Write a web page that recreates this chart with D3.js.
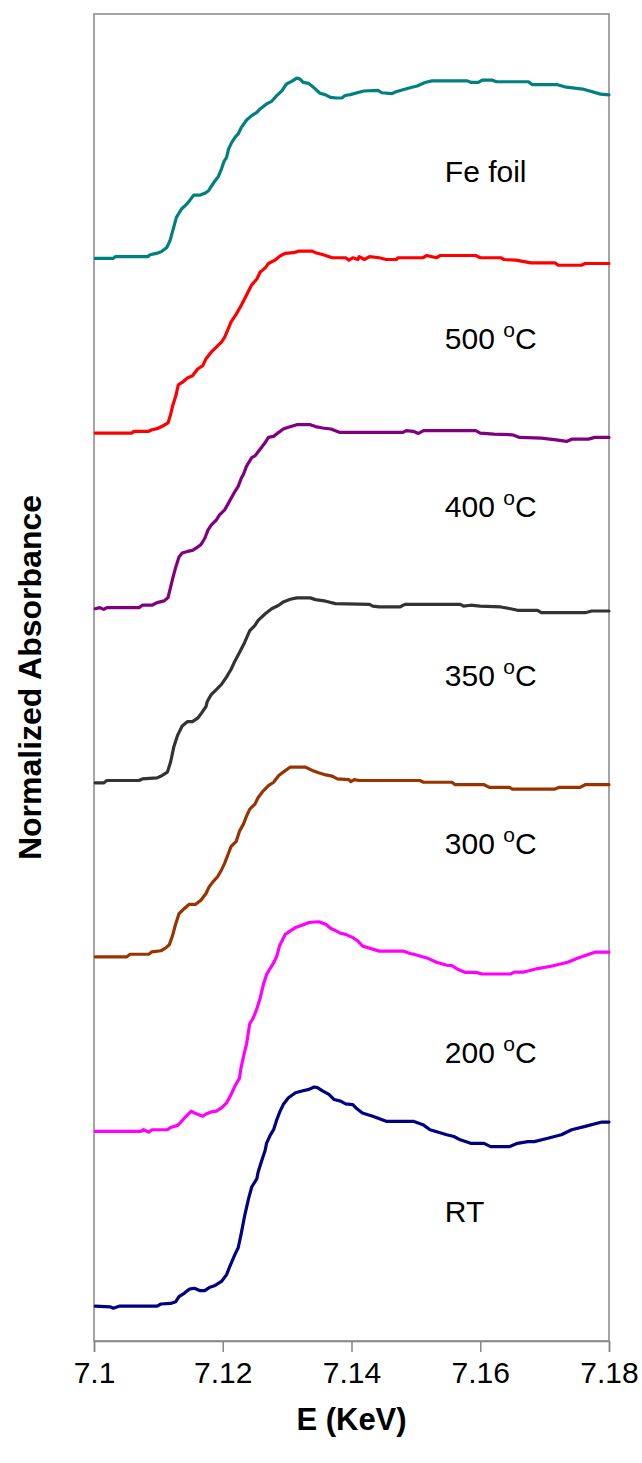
<!DOCTYPE html>
<html>
<head>
<meta charset="utf-8">
<script src="https://cdn.jsdelivr.net/npm/d3@7"></script>
<style>
  body { margin: 0; background: #fff; }
  svg text { font-family: "Liberation Sans", Arial, sans-serif; fill: #000; }
</style>
</head>
<body>
<div id="chart"></div>
<script>
// XANES spectra, [E (keV), normalized absorbance] per sample, stacked by offset
var rtData = [[7.1002,0],[7.1025,-0.004],[7.1030,-0.012],[7.1040,0],[7.1098,0],[7.1104,0.012],[7.1119,0.015],[7.1127,0.025],[7.1132,0.054],[7.1140,0.073],[7.1148,0.097],[7.1156,0.102],[7.1164,0.089],[7.1172,0.089],[7.1179,0.106],[7.1187,0.116],[7.1198,0.141],[7.1206,0.180],[7.1211,0.228],[7.1219,0.296],[7.1224,0.334],[7.1229,0.421],[7.1234,0.517],[7.1240,0.614],[7.1245,0.682],[7.1253,0.730],[7.1255,0.768],[7.1260,0.826],[7.1266,0.894],[7.1268,0.932],[7.1274,0.981],[7.1279,1.010],[7.1284,1.068],[7.1289,1.116],[7.1294,1.154],[7.1302,1.193],[7.1313,1.222],[7.1323,1.232],[7.1334,1.241],[7.1342,1.255],[7.1347,1.251],[7.1355,1.232],[7.1365,1.212],[7.1373,1.183],[7.1383,1.174],[7.1391,1.158],[7.1402,1.154],[7.1407,1.135],[7.1417,1.106],[7.1433,1.087],[7.1454,1.058],[7.1496,1.058],[7.1511,1.039],[7.1522,1.010],[7.1548,0.981],[7.1559,0.971],[7.1569,0.952],[7.1585,0.932],[7.1606,0.932],[7.1616,0.913],[7.1645,0.913],[7.1658,0.932],[7.1674,0.942],[7.1684,0.942],[7.1705,0.961],[7.1726,0.981],[7.1742,1.010],[7.1763,1.029],[7.1789,1.054],[7.1800,1.054]];

var t200Data = [[7.1002,0],[7.1072,0],[7.1077,0.010],[7.1085,-0.004],[7.1090,0.010],[7.1114,0.010],[7.1119,0.023],[7.1130,0.035],[7.1135,0.054],[7.1143,0.087],[7.1151,0.116],[7.1156,0.106],[7.1169,0.087],[7.1174,0.100],[7.1182,0.112],[7.1190,0.116],[7.1198,0.135],[7.1206,0.164],[7.1213,0.212],[7.1219,0.261],[7.1226,0.305],[7.1228,0.357],[7.1232,0.425],[7.1237,0.502],[7.1242,0.618],[7.1247,0.647],[7.1253,0.704],[7.1258,0.762],[7.1263,0.840],[7.1268,0.898],[7.1274,0.936],[7.1279,0.965],[7.1284,1.004],[7.1288,1.062],[7.1292,1.091],[7.1297,1.129],[7.1305,1.149],[7.1313,1.168],[7.1323,1.181],[7.1334,1.197],[7.1349,1.201],[7.1360,1.187],[7.1368,1.162],[7.1376,1.149],[7.1383,1.135],[7.1391,1.129],[7.1402,1.110],[7.1410,1.091],[7.1417,1.062],[7.1443,1.033],[7.1480,1.033],[7.1491,1.019],[7.1498,1.014],[7.1517,0.994],[7.1532,0.969],[7.1548,0.952],[7.1556,0.950],[7.1564,0.931],[7.1577,0.911],[7.1593,0.911],[7.1603,0.902],[7.1647,0.902],[7.1653,0.913],[7.1668,0.913],[7.1689,0.933],[7.1710,0.946],[7.1736,0.969],[7.1752,0.994],[7.1778,1.027],[7.1800,1.027]];

var t300Data = [[7.1002,0],[7.1051,0],[7.1056,0.015],[7.1085,0.015],[7.1090,0.029],[7.1104,0.035],[7.1111,0.050],[7.1117,0.069],[7.1122,0.122],[7.1127,0.190],[7.1132,0.247],[7.1140,0.276],[7.1148,0.301],[7.1158,0.301],[7.1166,0.324],[7.1174,0.363],[7.1179,0.402],[7.1185,0.431],[7.1192,0.459],[7.1198,0.498],[7.1203,0.537],[7.1208,0.585],[7.1213,0.633],[7.1221,0.662],[7.1226,0.720],[7.1232,0.759],[7.1237,0.807],[7.1242,0.846],[7.1250,0.875],[7.1255,0.913],[7.1263,0.951],[7.1271,0.981],[7.1279,1.000],[7.1287,1.039],[7.1294,1.058],[7.1305,1.087],[7.1328,1.087],[7.1339,1.068],[7.1349,1.054],[7.1360,1.042],[7.1370,1.035],[7.1378,1.019],[7.1396,1.015],[7.1399,1.004],[7.1404,1.015],[7.1412,1.010],[7.1506,1.010],[7.1512,1.000],[7.1556,1.000],[7.1561,0.986],[7.1606,0.986],[7.1614,0.971],[7.1645,0.971],[7.1650,0.961],[7.1716,0.961],[7.1723,0.971],[7.1755,0.971],[7.1763,0.986],[7.1800,0.986]];

var t350Data = [[7.1002,-0.004],[7.1015,-0.004],[7.1020,0.010],[7.1070,0.010],[7.1075,0.019],[7.1098,0.025],[7.1106,0.039],[7.1114,0.058],[7.1119,0.116],[7.1124,0.203],[7.1130,0.270],[7.1137,0.322],[7.1145,0.347],[7.1153,0.347],[7.1161,0.367],[7.1167,0.396],[7.1174,0.434],[7.1176,0.463],[7.1182,0.502],[7.1190,0.531],[7.1198,0.560],[7.1206,0.604],[7.1213,0.647],[7.1219,0.695],[7.1226,0.743],[7.1234,0.801],[7.1242,0.869],[7.1250,0.898],[7.1255,0.927],[7.1266,0.965],[7.1276,0.994],[7.1287,1.014],[7.1294,1.033],[7.1305,1.048],[7.1315,1.056],[7.1336,1.056],[7.1344,1.046],[7.1360,1.037],[7.1375,1.023],[7.1428,1.019],[7.1433,1.009],[7.1443,1.004],[7.1475,1.004],[7.1483,1.019],[7.1569,1.019],[7.1574,1.009],[7.1585,1.014],[7.1600,1.009],[7.1632,1.004],[7.1647,0.994],[7.1658,0.985],[7.1689,0.985],[7.1695,0.971],[7.1763,0.971],[7.1773,0.981],[7.1800,0.981]];

var t400Data = [[7.1002,-0.006],[7.1009,0],[7.1015,-0.010],[7.1020,0],[7.1070,0],[7.1075,0.014],[7.1090,0.014],[7.1098,0.029],[7.1109,0.039],[7.1115,0.058],[7.1122,0.164],[7.1127,0.232],[7.1132,0.290],[7.1137,0.313],[7.1145,0.322],[7.1153,0.328],[7.1161,0.347],[7.1166,0.361],[7.1172,0.396],[7.1177,0.444],[7.1182,0.473],[7.1190,0.502],[7.1195,0.531],[7.1203,0.560],[7.1208,0.593],[7.1213,0.627],[7.1219,0.666],[7.1224,0.695],[7.1229,0.743],[7.1232,0.762],[7.1237,0.811],[7.1245,0.859],[7.1250,0.869],[7.1258,0.907],[7.1266,0.946],[7.1271,0.975],[7.1279,0.981],[7.1287,1.004],[7.1294,1.023],[7.1302,1.033],[7.1315,1.048],[7.1336,1.048],[7.1344,1.037],[7.1355,1.029],[7.1368,1.023],[7.1381,1.004],[7.1480,1.004],[7.1485,1.014],[7.1496,1.010],[7.1504,0.998],[7.1512,1.014],[7.1593,1.014],[7.1600,1.000],[7.1621,0.994],[7.1650,0.990],[7.1661,0.975],[7.1695,0.971],[7.1721,0.959],[7.1734,0.952],[7.1742,0.965],[7.1768,0.965],[7.1778,0.975],[7.1800,0.975]];

var t500Data = [[7.1002,0],[7.1059,0],[7.1062,0.010],[7.1085,0.010],[7.1090,0.019],[7.1098,0.025],[7.1106,0.039],[7.1115,0.058],[7.1119,0.106],[7.1122,0.154],[7.1127,0.212],[7.1131,0.276],[7.1137,0.290],[7.1145,0.315],[7.1153,0.328],[7.1161,0.367],[7.1169,0.386],[7.1174,0.425],[7.1182,0.463],[7.1190,0.492],[7.1198,0.521],[7.1203,0.550],[7.1208,0.593],[7.1213,0.637],[7.1221,0.681],[7.1229,0.733],[7.1237,0.791],[7.1245,0.849],[7.1253,0.882],[7.1258,0.921],[7.1266,0.946],[7.1271,0.971],[7.1281,0.990],[7.1289,1.014],[7.1297,1.029],[7.1310,1.033],[7.1318,1.042],[7.1339,1.042],[7.1344,1.033],[7.1355,1.023],[7.1370,1.004],[7.1391,1.004],[7.1396,0.990],[7.1402,1.004],[7.1410,0.994],[7.1412,1.010],[7.1420,0.994],[7.1428,1.010],[7.1443,1.004],[7.1454,0.994],[7.1470,0.994],[7.1472,1.004],[7.1511,1.004],[7.1517,1.017],[7.1532,1.004],[7.1538,1.017],[7.1593,1.017],[7.1600,1.004],[7.1632,1.004],[7.1637,0.994],[7.1655,0.990],[7.1679,0.975],[7.1716,0.975],[7.1721,0.961],[7.1757,0.961],[7.1763,0.971],[7.1800,0.971]];

var feData = [[7.1002,0],[7.1030,0],[7.1033,0.011],[7.1084,0.011],[7.1087,0.021],[7.1097,0.029],[7.1105,0.040],[7.1113,0.063],[7.1118,0.101],[7.1123,0.168],[7.1128,0.235],[7.1136,0.283],[7.1144,0.311],[7.1149,0.334],[7.1155,0.363],[7.1165,0.363],[7.1172,0.373],[7.1178,0.388],[7.1183,0.417],[7.1188,0.445],[7.1193,0.468],[7.1198,0.512],[7.1202,0.556],[7.1206,0.579],[7.1209,0.627],[7.1214,0.665],[7.1219,0.693],[7.1224,0.713],[7.1229,0.751],[7.1237,0.793],[7.1245,0.818],[7.1253,0.837],[7.1258,0.856],[7.1268,0.885],[7.1276,0.900],[7.1284,0.933],[7.1292,0.961],[7.1299,0.999],[7.1307,1.014],[7.1315,1.033],[7.1320,1.027],[7.1325,1.008],[7.1333,1.003],[7.1341,0.980],[7.1351,0.946],[7.1359,0.938],[7.1367,0.923],[7.1377,0.919],[7.1385,0.919],[7.1390,0.933],[7.1398,0.938],[7.1419,0.959],[7.1441,0.963],[7.1447,0.949],[7.1463,0.944],[7.1469,0.955],[7.1491,0.978],[7.1502,0.988],[7.1514,1.008],[7.1525,1.017],[7.1580,1.017],[7.1586,1.008],[7.1597,1.008],[7.1603,1.021],[7.1619,1.021],[7.1625,1.012],[7.1675,1.012],[7.1681,0.995],[7.1720,0.995],[7.1731,0.983],[7.1759,0.970],[7.1787,0.941],[7.1800,0.937]];

var seriesData = [rtData, t200Data, t300Data, t350Data, t400Data, t500Data, feData];
var seriesNames = ["RT", "200", "300", "350", "400", "500", "Fe foil"];
var seriesUnits = ["", "C", "C", "C", "C", "C", ""];
var offsets = [0, 1, 2, 3, 4, 5, 6];
var labelLevel = [0.48, 0.39, 0.59, 0.55, 0.52, 0.48, 0.44]; // label baseline above each trace's offset
var colors = ["#000080", "#FF00FF", "#993300", "#333333", "#800080", "#FF0000", "#008080"];
var xTicks = [7.1, 7.12, 7.14, 7.16, 7.18];

var W = 642, H = 1463;
var margin = {top: 14, right: 33, bottom: 122, left: 94};
var iw = W - margin.left - margin.right;
var ih = H - margin.top - margin.bottom;

var svg = d3.select("#chart").append("svg")
  .attr("width", W)
  .attr("height", H);

var g = svg.append("g")
  .attr("transform", "translate(" + margin.left + "," + margin.top + ")");

var x = d3.scaleLinear().domain([7.1, 7.18]).range([0, iw]);
var y = d3.scaleLinear().domain([-0.2, 7.4]).range([ih, 0]);

// plot frame
g.append("rect")
  .attr("x", 0).attr("y", 0)
  .attr("width", iw).attr("height", ih)
  .attr("fill", "none")
  .attr("stroke", "#868686")
  .attr("stroke-width", 1.5);

// x axis
var xAxis = g.append("g")
  .attr("transform", "translate(0," + ih + ")")
  .call(d3.axisBottom(x).tickValues(xTicks).tickSize(11).tickPadding(10)
    .tickFormat(function(d){ return String(+d.toFixed(2)); }));
xAxis.select(".domain").attr("stroke", "#868686").attr("stroke-width", 1.5);
xAxis.selectAll(".tick line").attr("stroke", "#868686").attr("stroke-width", 1.5);
xAxis.selectAll(".tick text")
  .attr("font-size", 30)
  .attr("font-family", "Liberation Sans, Arial, sans-serif")
  .attr("fill", "#000");

var line = d3.line()
  .x(function(d){ return x(d[0]); })
  .y(function(d){ return y(d[1]); });

seriesData.forEach(function(data, i){
  g.append("path")
    .datum(data.map(function(d){ return [d[0], d[1] + offsets[i]]; }))
    .attr("d", line)
    .attr("fill", "none")
    .attr("stroke", colors[i])
    .attr("stroke-width", 3.2)
    .attr("stroke-linejoin", "round")
    .attr("stroke-linecap", "round");
});

// sample labels
seriesNames.forEach(function(name, i){
  var t = g.append("text")
    .attr("x", x(7.1545))
    .attr("y", y(offsets[i] + labelLevel[i]))
    .attr("font-size", 30);
  if (seriesUnits[i]) {
    t.append("tspan").text(name + " ");
    t.append("tspan").attr("dy", -12).attr("font-size", 21).text("o");
    t.append("tspan").attr("dy", 12).text(seriesUnits[i]);
  } else {
    t.text(name);
  }
});

// axis titles
svg.append("text")
  .attr("x", margin.left + iw / 2)
  .attr("y", 1430)
  .attr("text-anchor", "middle")
  .attr("font-size", 31)
  .attr("font-weight", "bold")
  .text("E (KeV)");

svg.append("text")
  .attr("transform", "translate(41," + (margin.top + ih / 2) + ") rotate(-90)")
  .attr("text-anchor", "middle")
  .attr("font-size", 32)
  .attr("font-weight", "bold")
  .text("Normalized Absorbance");
</script>
</body>
</html>
